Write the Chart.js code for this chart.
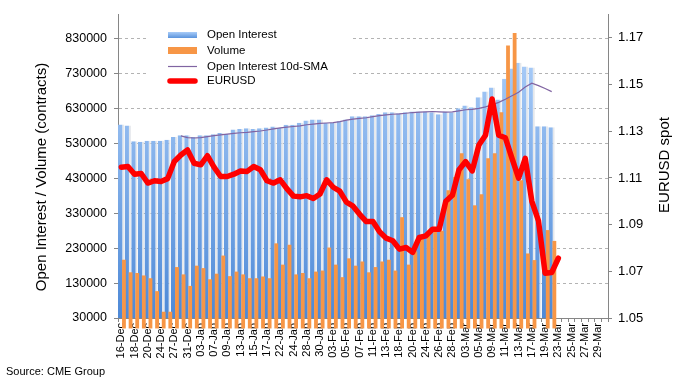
<!DOCTYPE html>
<html><head><meta charset="utf-8">
<script src="https://cdn.jsdelivr.net/npm/chart.js@4.4.1/dist/chart.umd.min.js"></script>
<style>html,body{margin:0;padding:0;background:#fff;}canvas{display:block}</style>
</head><body>
<canvas id="c" width="686" height="385"></canvas>
<script>
const categories = ["16-Dec","17-Dec","18-Dec","19-Dec","20-Dec","23-Dec","24-Dec","26-Dec","27-Dec","30-Dec","31-Dec",
"02-Jan","03-Jan","06-Jan","07-Jan","08-Jan","09-Jan","10-Jan","13-Jan","14-Jan","15-Jan","16-Jan","17-Jan","21-Jan","22-Jan","23-Jan","24-Jan","27-Jan","28-Jan","29-Jan","30-Jan","31-Jan",
"03-Feb","04-Feb","05-Feb","06-Feb","07-Feb","10-Feb","11-Feb","12-Feb","13-Feb","14-Feb","18-Feb","19-Feb","20-Feb","21-Feb","24-Feb","25-Feb","26-Feb","27-Feb","28-Feb",
"02-Mar","03-Mar","04-Mar","05-Mar","06-Mar","09-Mar","10-Mar","11-Mar","12-Mar","13-Mar","16-Mar","17-Mar","18-Mar","19-Mar","20-Mar","23-Mar","24-Mar","25-Mar","26-Mar","27-Mar","28-Mar","29-Mar","30-Mar"];

const openInterest = [585000,582000,537000,535000,538000,538000,538000,541000,549000,554000,554000,
549000,554000,554000,557000,560000,558000,570000,572000,574000,572000,574000,576000,579000,575000,584000,584000,590000,596000,599000,599000,590000,
590000,594000,599000,608000,608000,608000,611000,615000,620000,620000,617000,620000,622000,622000,622000,620000,614000,622000,620000,
631000,639000,634000,663000,679000,691000,656000,716000,745000,762000,751000,748000,580000,580000,577000];

const volume = [197000,161000,159000,152000,144000,107000,48000,48000,176000,155000,122000,
180000,173000,141000,157000,209000,150000,163000,155000,144000,144000,149000,144000,244000,183000,240000,155000,159000,144000,163000,166000,232000,
183000,147000,201000,180000,192000,161000,176000,192000,197000,166000,319000,183000,221000,256000,265000,280000,280000,396000,434000,
502000,428000,353000,385000,488000,502000,620000,811000,847000,425000,215000,196000,null,282000,251000];

const oiSMA = [null,null,null,null,null,null,null,null,null,552000,547000,
546000,547000,550000,553000,555000,557000,559000,561000,562000,564000,566000,569000,572000,575000,577000,579000,581000,584000,586000,588000,589000,
590000,593000,597000,600000,602000,604000,607000,610000,612000,614000,615000,617000,619000,620000,621000,622000,621000,620000,621000,
624000,627000,628000,631000,635000,641000,648000,657000,667000,677000,692000,703000,696000,688000,679000];

const eurusd = [1.1146,1.1149,1.1116,1.1119,1.1078,1.1088,1.1085,1.1097,1.1170,1.1198,1.1220,
1.1163,1.1156,1.1195,1.1146,1.1106,1.1106,1.1116,1.1130,1.1128,1.1149,1.1135,1.1088,1.1078,1.1092,1.1054,1.1022,1.1019,1.1024,1.1012,1.1031,1.1092,
1.1060,1.1043,1.0996,1.0979,1.0944,1.0913,1.0913,1.0869,1.0842,1.0831,1.0795,1.0802,1.0781,1.0845,1.0852,1.0880,1.0880,1.1000,1.1026,
1.1135,1.1170,1.1130,1.1241,1.1283,1.1438,1.1283,1.1272,1.1184,1.1099,1.1184,1.1000,1.0916,1.0692,1.0695,1.0756];

const leftTicks = [30000,130000,230000,330000,430000,530000,630000,730000,830000];
const rightTicks = [1.05,1.07,1.09,1.11,1.13,1.15,1.17];

const FONT = "'Liberation Sans', Arial, sans-serif";
Chart.defaults.font.family = FONT;
Chart.defaults.color = '#000';

function blueGrad(chart, y0, y1) {
  const g = chart.ctx.createLinearGradient(0, y1, 0, y0);
  g.addColorStop(0, '#4d89d7');
  g.addColorStop(1, '#a9ccf8');
  return g;
}

const barOrder = {
  id: 'barOrder',
  beforeDatasetDraw(chart, args) { if (args.index === 1) return false; },
  afterDatasetDraw(chart, args) { if (args.index === 0) chart.getDatasetMeta(1).controller.draw(); }
};

const extras = {
  id: 'extras',
  afterDraw(chart) {
    const ctx = chart.ctx;
    ctx.save();
    ctx.fillStyle = '#fff';
    ctx.fillRect(146, 24, 206, 69);
    const g = ctx.createLinearGradient(0, 32, 0, 38);
    g.addColorStop(0, '#a9ccf8'); g.addColorStop(1, '#5a93dc');
    ctx.fillStyle = g; ctx.fillRect(168, 32, 29, 6);
    ctx.fillStyle = '#f79646'; ctx.fillRect(168, 47, 29, 7);
    ctx.strokeStyle = '#8064a2'; ctx.lineWidth = 1.2;
    ctx.beginPath(); ctx.moveTo(168, 66.5); ctx.lineTo(197, 66.5); ctx.stroke();
    ctx.strokeStyle = '#ff0000'; ctx.lineWidth = 5.5; ctx.lineCap = 'round';
    ctx.beginPath(); ctx.moveTo(170, 81); ctx.lineTo(195, 81); ctx.stroke();
    ctx.fillStyle = '#000'; ctx.font = '11.5px ' + FONT;
    ctx.textAlign = 'left'; ctx.textBaseline = 'middle';
    const names = chart.data.datasets.map(d => d.label);
    [35, 50.5, 66.5, 81].forEach((y, i) => ctx.fillText(names[i], 207, y));
    ctx.font = '15px ' + FONT; ctx.textAlign = 'center';
    ctx.save(); ctx.translate(42, 177); ctx.rotate(-Math.PI / 2);
    ctx.fillText('Open Interest / Volume (contracts)', 0, 0); ctx.restore();
    ctx.save(); ctx.translate(665, 165); ctx.rotate(-Math.PI / 2);
    ctx.fillText('EURUSD spot', 0, 0); ctx.restore();
    ctx.font = '11px ' + FONT; ctx.textAlign = 'left';
    ctx.fillText('Source: CME Group', 6, 372);
    ctx.restore();
  }
};

new Chart(document.getElementById('c'), {
  type: 'bar',
  data: {
    labels: categories,
    datasets: [
      { label: 'Open Interest', data: openInterest, yAxisID: 'y', order: 2,
        backgroundColor: (c) => { const ca = c.chart.chartArea; return ca ? blueGrad(c.chart, 55, ca.bottom) : '#8db7ee'; },
        borderColor: 'rgba(226,229,234,0.9)', borderWidth: {top: 0, left: 0, bottom: 0, right: 2}, borderSkipped: false,
        categoryPercentage: 0.0906, barPercentage: 21 },
      { label: 'Volume', data: volume, yAxisID: 'y', order: 2,
        backgroundColor: '#f79646', borderWidth: 0,
        categoryPercentage: 1.60, barPercentage: 0.72 },
      { type: 'line', label: 'Open Interest 10d-SMA', data: oiSMA, yAxisID: 'y', order: 1,
        borderColor: '#8064a2', borderWidth: 1.2, pointRadius: 0, tension: 0, fill: false },
      { type: 'line', label: 'EURUSD', data: eurusd, yAxisID: 'y1', order: 0,
        borderColor: '#ff0000', borderWidth: 5.5, pointRadius: 0, tension: 0, fill: false,
        borderCapStyle: 'round', borderJoinStyle: 'round' }
    ]
  },
  options: {
    responsive: false, animation: false, devicePixelRatio: 1,
    layout: { padding: { top: 12, left: 0, right: 0, bottom: 0 } },
    plugins: { legend: { display: false }, tooltip: { enabled: false } },
    scales: {
      x: {
        afterFit: (s) => { s.height = 67; },
        ticks: { autoSkip: false, maxRotation: 90, minRotation: 90, padding: 1, font: { size: 11 }, color: '#000',
          callback: (v, i) => (i % 2 === 0 ? categories[i] : '') },
        grid: { display: true, drawOnChartArea: false, tickLength: 4, tickColor: '#868686' },
        border: { color: '#868686', width: 1 }
      },
      y: {
        position: 'left', min: 30000, max: 900000,
        afterFit: (s) => { s.width = 118; },
        afterBuildTicks: (s) => { s.ticks = leftTicks.map(v => ({ value: v })); },
        ticks: { padding: 7, font: { size: 12.5 }, color: '#000', callback: (v) => String(v) },
        grid: { color: (c) => (c.tick && c.tick.value === 30000 ? 'rgba(0,0,0,0)' : '#b3b3b3'), lineWidth: 1,
          tickLength: 4, tickColor: '#868686', tickBorderDash: [] },
        border: { color: '#868686', width: 1, dash: [3, 3] }
      },
      y1: {
        position: 'right', min: 1.05, max: 1.18,
        afterFit: (s) => { s.width = 78; },
        afterBuildTicks: (s) => { s.ticks = rightTicks.map(v => ({ value: v })); },
        ticks: { padding: 6, font: { size: 13 }, color: '#000', callback: (v) => Number(v).toFixed(2) },
        grid: { drawOnChartArea: false, tickLength: 4, tickColor: '#868686' },
        border: { color: '#868686', width: 1 }
      }
    }
  },
  plugins: [barOrder, extras]
});
</script>
</body></html>
